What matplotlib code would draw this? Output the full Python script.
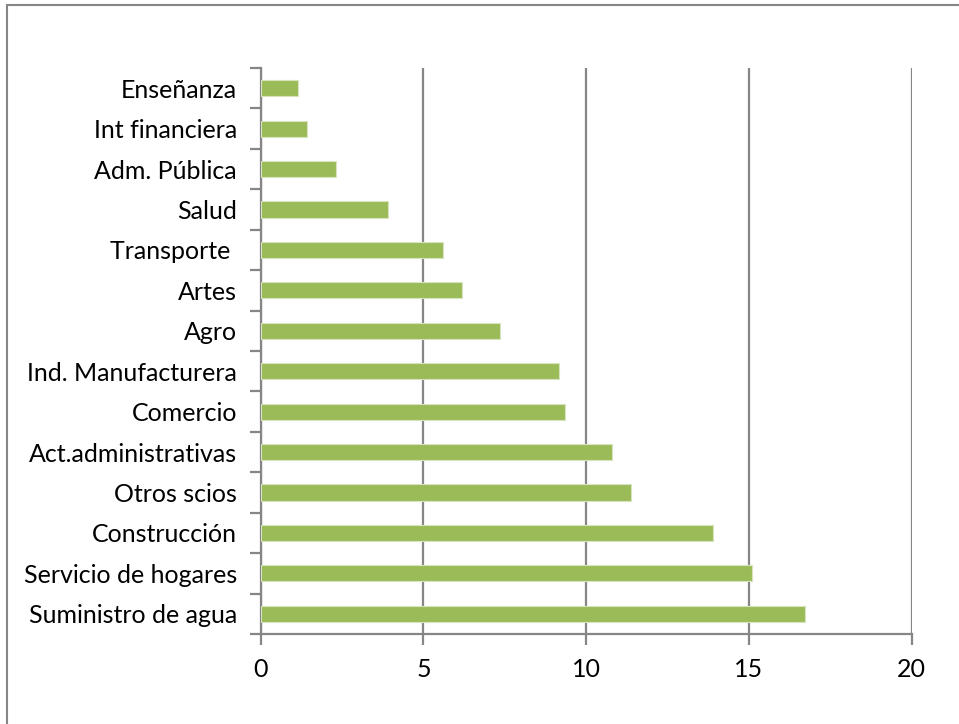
import matplotlib.pyplot as plt
import matplotlib.patches as patches
import numpy as np

# categorías de arriba hacia abajo
categorias = ['Enseñanza', 'Int financiera', 'Adm. Pública', 'Salud', 'Transporte ',
              'Artes', 'Agro', 'Ind. Manufacturera', 'Comercio', 'Act.administrativas',
              'Otros scios', 'Construcción', 'Servicio de hogares', 'Suministro de agua']
valores = [1.14, 1.43, 2.32, 3.92, 5.61, 6.19, 7.35, 9.16, 9.34, 10.78,
           11.39, 13.90, 15.10, 16.71]
xticks = [0, 5, 10, 15, 20]

plt.rcParams['font.family'] = ['Lato', 'DejaVu Sans']

fig = plt.figure(figsize=(9.59, 7.24), dpi=100)
ax = fig.add_axes([260.7 / 959, 1 - 634 / 724, 651 / 959, 566 / 724])

y = np.arange(len(categorias))
ax.barh(y, valores, height=0.4, color='#9BBB59', edgecolor='#D7E4BD', linewidth=0.8, zorder=3)

ax.set_xlim(0, 20)
ax.set_ylim(len(categorias) - 0.5, -0.5)
ax.set_xticks(xticks)
ax.set_xticklabels([str(t) for t in xticks])
ax.set_yticks(y)
ax.set_yticklabels(categorias)
ax.set_yticks(np.arange(-0.5, len(categorias), 1), minor=True)

gris = '#868686'
ax.grid(axis='x', color=gris, linewidth=1.6, zorder=1)
for s in ['top', 'right']:
    ax.spines[s].set_visible(False)
for s in ['left', 'bottom']:
    ax.spines[s].set_color(gris)
    ax.spines[s].set_linewidth(1.6)

ax.tick_params(axis='y', which='major', length=0, pad=17, labelsize=18)
ax.tick_params(axis='y', which='minor', length=8, width=1.6, color=gris)
ax.tick_params(axis='x', length=8, width=1.6, color=gris, pad=9, labelsize=18)

# marco del gráfico
fig.patches.append(patches.Rectangle((7 / 959, -0.05), 1.1, 1 - 5 / 724 + 0.05,
                                     transform=fig.transFigure, fill=False,
                                     edgecolor=gris, linewidth=1.5))

fig.savefig('out.png', dpi=100)
